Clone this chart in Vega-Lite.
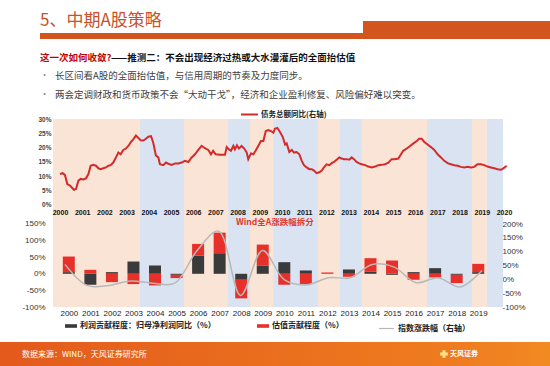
{
  "$schema": "https://vega.github.io/schema/vega-lite/v6.json",
  "background": "#ffffff",
  "padding": 0,
  "spacing": 0,
  "bounds": "flush",
  "config": {
    "view": {"stroke": null},
    "font": "Noto Sans CJK SC",
    "title": {"font": "Noto Sans CJK SC", "anchor": "start", "frame": "group", "offset": 0, "orient": "top", "baseline": "middle"},
    "axis": {"labelFont": "Liberation Sans", "domain": false, "ticks": false, "tickSize": 0, "grid": false, "title": null, "labelColor": "#333333", "zindex": 2},
    "legend": {"labelFont": "Noto Sans CJK SC", "title": null, "padding": 0}
  },
  "resolve": {
    "scale": {"fill": "independent", "stroke": "independent", "color": "independent"},
    "legend": {"fill": "independent", "stroke": "independent", "color": "independent"}
  },
  "datasets": {
    "bands": [
      {"start": 1999.685, "end": 2003.6, "phase": "上行"},
      {"start": 2003.6, "end": 2005.59, "phase": "下行"},
      {"start": 2005.59, "end": 2007.57, "phase": "上行"},
      {"start": 2007.57, "end": 2008.56, "phase": "下行"},
      {"start": 2008.56, "end": 2009.6, "phase": "上行"},
      {"start": 2009.6, "end": 2011.62, "phase": "下行"},
      {"start": 2011.62, "end": 2012.61, "phase": "上行"},
      {"start": 2012.61, "end": 2013.6, "phase": "下行"},
      {"start": 2013.6, "end": 2016.53, "phase": "上行"},
      {"start": 2016.53, "end": 2018.56, "phase": "下行"},
      {"start": 2018.56, "end": 2019.23, "phase": "上行"},
      {"start": 2019.23, "end": 2019.955, "phase": "下行"}
    ],
    "debt": [
      {"year": 2000.0, "growth": 10.8}, {"year": 2000.12, "growth": 11.1}, {"year": 2000.22, "growth": 10.5},
      {"year": 2000.33, "growth": 7.3}, {"year": 2000.45, "growth": 6.8}, {"year": 2000.52, "growth": 6.2},
      {"year": 2000.63, "growth": 5.3}, {"year": 2000.72, "growth": 5.6}, {"year": 2000.83, "growth": 8.5},
      {"year": 2000.93, "growth": 9.1}, {"year": 2001.05, "growth": 8.9}, {"year": 2001.17, "growth": 9.3},
      {"year": 2001.28, "growth": 10.8}, {"year": 2001.38, "growth": 13.7}, {"year": 2001.5, "growth": 14.0},
      {"year": 2001.62, "growth": 13.7}, {"year": 2001.73, "growth": 12.8}, {"year": 2001.83, "growth": 12.5},
      {"year": 2001.95, "growth": 12.8}, {"year": 2002.07, "growth": 13.1}, {"year": 2002.18, "growth": 13.7},
      {"year": 2002.28, "growth": 13.9}, {"year": 2002.4, "growth": 14.8}, {"year": 2002.52, "growth": 16.6},
      {"year": 2002.63, "growth": 18.3}, {"year": 2002.73, "growth": 17.7}, {"year": 2002.85, "growth": 19.2},
      {"year": 2002.97, "growth": 19.7}, {"year": 2003.08, "growth": 20.6}, {"year": 2003.2, "growth": 22.0},
      {"year": 2003.3, "growth": 22.9}, {"year": 2003.42, "growth": 24.2}, {"year": 2003.53, "growth": 23.4},
      {"year": 2003.63, "growth": 22.6}, {"year": 2003.75, "growth": 22.5}, {"year": 2003.87, "growth": 23.1},
      {"year": 2003.98, "growth": 23.8}, {"year": 2004.1, "growth": 24.0}, {"year": 2004.2, "growth": 21.7},
      {"year": 2004.32, "growth": 17.3}, {"year": 2004.43, "growth": 16.6}, {"year": 2004.5, "growth": 14.2},
      {"year": 2004.65, "growth": 13.9}, {"year": 2004.77, "growth": 14.8}, {"year": 2004.88, "growth": 14.4},
      {"year": 2005.03, "growth": 14.0}, {"year": 2005.18, "growth": 14.5}, {"year": 2005.33, "growth": 14.5},
      {"year": 2005.48, "growth": 14.8}, {"year": 2005.63, "growth": 15.4}, {"year": 2005.78, "growth": 15.0},
      {"year": 2005.93, "growth": 16.6}, {"year": 2006.08, "growth": 17.7}, {"year": 2006.23, "growth": 19.2},
      {"year": 2006.38, "growth": 20.6}, {"year": 2006.53, "growth": 19.8}, {"year": 2006.68, "growth": 19.2},
      {"year": 2006.8, "growth": 17.7}, {"year": 2006.9, "growth": 18.9}, {"year": 2007.01, "growth": 17.7},
      {"year": 2007.21, "growth": 17.5}, {"year": 2007.43, "growth": 17.5}, {"year": 2007.51, "growth": 20.2},
      {"year": 2007.61, "growth": 19.4}, {"year": 2007.7, "growth": 18.9}, {"year": 2007.81, "growth": 20.6},
      {"year": 2007.88, "growth": 19.4}, {"year": 2007.97, "growth": 20.8}, {"year": 2008.06, "growth": 19.7},
      {"year": 2008.18, "growth": 20.6}, {"year": 2008.3, "growth": 19.7}, {"year": 2008.41, "growth": 18.3},
      {"year": 2008.48, "growth": 16.0}, {"year": 2008.6, "growth": 18.0}, {"year": 2008.71, "growth": 17.7},
      {"year": 2008.81, "growth": 18.9}, {"year": 2008.93, "growth": 20.6}, {"year": 2009.05, "growth": 22.3},
      {"year": 2009.16, "growth": 22.3}, {"year": 2009.27, "growth": 25.8}, {"year": 2009.38, "growth": 26.1},
      {"year": 2009.5, "growth": 25.8}, {"year": 2009.61, "growth": 25.2}, {"year": 2009.68, "growth": 26.6},
      {"year": 2009.79, "growth": 26.9}, {"year": 2009.91, "growth": 25.5}, {"year": 2010.03, "growth": 23.8},
      {"year": 2010.14, "growth": 21.1}, {"year": 2010.21, "growth": 21.5}, {"year": 2010.33, "growth": 18.5},
      {"year": 2010.44, "growth": 19.2}, {"year": 2010.54, "growth": 18.3}, {"year": 2010.66, "growth": 18.5},
      {"year": 2010.78, "growth": 17.7}, {"year": 2010.89, "growth": 15.4}, {"year": 2010.99, "growth": 13.9},
      {"year": 2011.11, "growth": 13.1}, {"year": 2011.23, "growth": 12.5}, {"year": 2011.34, "growth": 12.5},
      {"year": 2011.44, "growth": 12.0}, {"year": 2011.56, "growth": 11.1}, {"year": 2011.68, "growth": 11.4},
      {"year": 2011.79, "growth": 12.0}, {"year": 2011.89, "growth": 13.1}, {"year": 2012.01, "growth": 14.2},
      {"year": 2012.13, "growth": 13.9}, {"year": 2012.24, "growth": 14.6}, {"year": 2012.34, "growth": 15.0},
      {"year": 2012.46, "growth": 15.8}, {"year": 2012.58, "growth": 16.6}, {"year": 2012.69, "growth": 16.2},
      {"year": 2012.79, "growth": 16.0}, {"year": 2012.91, "growth": 16.0}, {"year": 2013.03, "growth": 15.8},
      {"year": 2013.14, "growth": 16.6}, {"year": 2013.24, "growth": 16.0}, {"year": 2013.36, "growth": 15.0},
      {"year": 2013.48, "growth": 14.5}, {"year": 2013.59, "growth": 14.2}, {"year": 2013.74, "growth": 13.9},
      {"year": 2013.89, "growth": 13.4}, {"year": 2014.04, "growth": 13.1}, {"year": 2014.19, "growth": 13.4},
      {"year": 2014.34, "growth": 13.9}, {"year": 2014.49, "growth": 14.0}, {"year": 2014.64, "growth": 14.2},
      {"year": 2014.79, "growth": 14.8}, {"year": 2014.94, "growth": 16.0}, {"year": 2015.09, "growth": 16.0},
      {"year": 2015.24, "growth": 16.2}, {"year": 2015.36, "growth": 17.7}, {"year": 2015.46, "growth": 18.9},
      {"year": 2015.62, "growth": 19.7}, {"year": 2015.77, "growth": 20.6}, {"year": 2015.92, "growth": 21.5},
      {"year": 2016.07, "growth": 22.3}, {"year": 2016.17, "growth": 23.1}, {"year": 2016.29, "growth": 23.1},
      {"year": 2016.41, "growth": 22.0}, {"year": 2016.56, "growth": 21.1}, {"year": 2016.71, "growth": 20.2},
      {"year": 2016.86, "growth": 19.2}, {"year": 2017.01, "growth": 17.7}, {"year": 2017.16, "growth": 16.6},
      {"year": 2017.31, "growth": 15.4}, {"year": 2017.46, "growth": 14.6}, {"year": 2017.61, "growth": 14.2},
      {"year": 2017.76, "growth": 13.9}, {"year": 2017.91, "growth": 13.7}, {"year": 2018.06, "growth": 13.3},
      {"year": 2018.21, "growth": 13.1}, {"year": 2018.36, "growth": 13.3}, {"year": 2018.51, "growth": 13.1},
      {"year": 2018.66, "growth": 13.3}, {"year": 2018.81, "growth": 14.2}, {"year": 2018.96, "growth": 14.2},
      {"year": 2019.11, "growth": 13.9}, {"year": 2019.26, "growth": 13.4}, {"year": 2019.41, "growth": 13.1},
      {"year": 2019.56, "growth": 12.8}, {"year": 2019.71, "growth": 12.5}, {"year": 2019.86, "growth": 12.3},
      {"year": 2019.97, "growth": 12.8}, {"year": 2020.12, "growth": 13.7}
    ],
    "contrib": [
      {"year": 2000, "type": "利润贡献程度：归母净利润同比（%）", "value": 5}, {"year": 2000, "type": "估值贡献程度（%）", "value": 47},
      {"year": 2001, "type": "利润贡献程度：归母净利润同比（%）", "value": -33}, {"year": 2001, "type": "估值贡献程度（%）", "value": 12},
      {"year": 2002, "type": "利润贡献程度：归母净利润同比（%）", "value": 5}, {"year": 2002, "type": "估值贡献程度（%）", "value": -25},
      {"year": 2003, "type": "利润贡献程度：归母净利润同比（%）", "value": 37}, {"year": 2003, "type": "估值贡献程度（%）", "value": -31},
      {"year": 2004, "type": "利润贡献程度：归母净利润同比（%）", "value": 25}, {"year": 2004, "type": "估值贡献程度（%）", "value": -35},
      {"year": 2005, "type": "利润贡献程度：归母净利润同比（%）", "value": -3}, {"year": 2005, "type": "估值贡献程度（%）", "value": -10},
      {"year": 2006, "type": "利润贡献程度：归母净利润同比（%）", "value": 55}, {"year": 2006, "type": "估值贡献程度（%）", "value": 35},
      {"year": 2007, "type": "利润贡献程度：归母净利润同比（%）", "value": 62}, {"year": 2007, "type": "估值贡献程度（%）", "value": 62},
      {"year": 2008, "type": "利润贡献程度：归母净利润同比（%）", "value": -18}, {"year": 2008, "type": "估值贡献程度（%）", "value": -56},
      {"year": 2009, "type": "利润贡献程度：归母净利润同比（%）", "value": 24}, {"year": 2009, "type": "估值贡献程度（%）", "value": 64},
      {"year": 2010, "type": "利润贡献程度：归母净利润同比（%）", "value": 35}, {"year": 2010, "type": "估值贡献程度（%）", "value": -33},
      {"year": 2011, "type": "利润贡献程度：归母净利润同比（%）", "value": 10}, {"year": 2011, "type": "估值贡献程度（%）", "value": -31},
      {"year": 2012, "type": "利润贡献程度：归母净利润同比（%）", "value": 0}, {"year": 2012, "type": "估值贡献程度（%）", "value": 4},
      {"year": 2013, "type": "利润贡献程度：归母净利润同比（%）", "value": 13}, {"year": 2013, "type": "估值贡献程度（%）", "value": -9},
      {"year": 2014, "type": "利润贡献程度：归母净利润同比（%）", "value": 6}, {"year": 2014, "type": "估值贡献程度（%）", "value": 41},
      {"year": 2015, "type": "利润贡献程度：归母净利润同比（%）", "value": -3}, {"year": 2015, "type": "估值贡献程度（%）", "value": 40},
      {"year": 2016, "type": "利润贡献程度：归母净利润同比（%）", "value": 5}, {"year": 2016, "type": "估值贡献程度（%）", "value": -18},
      {"year": 2017, "type": "利润贡献程度：归母净利润同比（%）", "value": 17}, {"year": 2017, "type": "估值贡献程度（%）", "value": -11},
      {"year": 2018, "type": "利润贡献程度：归母净利润同比（%）", "value": -3}, {"year": 2018, "type": "估值贡献程度（%）", "value": -25},
      {"year": 2019, "type": "利润贡献程度：归母净利润同比（%）", "value": 5}, {"year": 2019, "type": "估值贡献程度（%）", "value": 25}
    ],
    "index": [
      {"year": 2000, "change": 54}, {"year": 2001, "change": -22}, {"year": 2002, "change": -22}, {"year": 2003, "change": -6},
      {"year": 2004, "change": -14}, {"year": 2005, "change": -14}, {"year": 2006, "change": 102}, {"year": 2007, "change": 174},
      {"year": 2008, "change": -58}, {"year": 2009, "change": 104}, {"year": 2010, "change": -2}, {"year": 2011, "change": -20},
      {"year": 2012, "change": 6}, {"year": 2013, "change": 6}, {"year": 2014, "change": 54}, {"year": 2015, "change": 44},
      {"year": 2016, "change": -12}, {"year": 2017, "change": 6}, {"year": 2018, "change": -28}, {"year": 2019, "change": 32}
    ]
  },
  "vconcat": [
    {
      "width": 550, "height": 45,
      "title": {"text": "5、中期A股策略", "fontSize": 17, "fontWeight": "normal", "color": "#c8502a", "dx": 40, "dy": 34},
      "layer": [
        {"data": {"values": [{"part": "细条"}]}, "mark": {"type": "rect", "fill": "#d4541e"},
         "encoding": {"x": {"value": 40}, "x2": {"value": 363}, "y": {"value": 33}, "y2": {"value": 39}}},
        {"data": {"values": [{"part": "粗条"}]}, "mark": {"type": "rect", "fill": "#d4541e"},
         "encoding": {"x": {"value": 363}, "x2": {"value": 550}, "y": {"value": 21}, "y2": {"value": 39}}}
      ]
    },
    {
      "width": 550, "height": 2, "data": {"values": []}, "mark": "point",
      "title": {"text": "这一次如何收敛?", "fontSize": 9.5, "fontWeight": "bold", "color": "#c00000", "dx": 40, "dy": 21}
    },
    {
      "width": 550, "height": 2, "data": {"values": []}, "mark": "point",
      "title": {"text": "——推测二：不会出现经济过热或大水漫灌后的全面抬估值", "fontSize": 9.5, "fontWeight": "bold", "color": "#111111", "dx": 111, "dy": 19}
    },
    {
      "width": 550, "height": 2, "data": {"values": []}, "mark": "point",
      "title": {"text": "•", "fontSize": 9, "fontWeight": "normal", "color": "#8a8a8a", "dx": 40, "dy": 35}
    },
    {
      "width": 550, "height": 2, "data": {"values": []}, "mark": "point",
      "title": {"text": "长区间看A股的全面抬估值，与信用周期的节奏及力度同步。", "fontSize": 9.5, "fontWeight": "normal", "color": "#404040", "dx": 55, "dy": 33.5}
    },
    {
      "width": 550, "height": 2, "data": {"values": []}, "mark": "point",
      "title": {"text": "•", "fontSize": 9, "fontWeight": "normal", "color": "#8a8a8a", "dx": 40, "dy": 50}
    },
    {
      "width": 550, "height": 64, "data": {"values": []}, "mark": "point",
      "title": {"text": "两会定调财政和货币政策不会“大动干戈”，经济和企业盈利修复、风险偏好难以突变。", "fontSize": 9.5, "fontWeight": "normal", "color": "#404040", "dx": 55, "dy": 48}
    },
    {
      "width": 550, "height": 99,
      "layer": [
        {
          "data": {"name": "bands"},
          "mark": {"type": "rect"},
          "encoding": {
            "x": {"field": "start", "type": "quantitative", "scale": {"domain": [1997.297, 2022.072], "nice": false, "zero": false}, "axis": null},
            "x2": {"field": "end"},
            "fill": {"field": "phase", "type": "nominal", "scale": {"domain": ["上行", "下行"], "range": ["#fae4d5", "#dae3f2"]}, "legend": null}
          }
        },
        {
          "data": {"name": "debt"},
          "mark": {"type": "line", "strokeWidth": 2},
          "encoding": {
            "x": {"field": "year", "type": "quantitative"},
            "y": {"field": "growth", "type": "quantitative", "scale": {"domain": [-4.535, 30], "nice": false, "zero": false},
                  "axis": {"orient": "left", "offset": -53, "values": [0, 5, 10, 15, 20, 25, 30], "labelExpr": "datum.value + '%'", "labelFontSize": 6.5, "labelFontWeight": "bold", "labelColor": "#444444", "labelPadding": 2}},
            "stroke": {"datum": "债务总额同比(右轴)", "type": "nominal", "scale": {"range": ["#d42a2a"]},
                       "legend": {"orient": "none", "legendX": 240, "legendY": -14, "symbolType": "stroke", "symbolSize": 289, "symbolStrokeWidth": 2, "labelFontSize": 7.5, "labelFontWeight": "bold", "labelColor": "#222222", "labelOffset": 2}}
          }
        }
      ]
    },
    {
      "width": 550, "height": 89,
      "title": {"text": "Wind全A涨跌幅拆分", "fontSize": 8.5, "fontWeight": "bold", "color": "#e03a2e", "dx": 236, "dy": 22},
      "resolve": {"scale": {"x": "independent", "y": "independent"}},
      "layer": [
        {
          "data": {"name": "bands"},
          "mark": {"type": "rect"},
          "encoding": {
            "x": {"field": "start", "type": "quantitative", "scale": {"domain": [1997.297, 2022.072], "nice": false, "zero": false},
                  "axis": {"orient": "top", "values": [2000, 2001, 2002, 2003, 2004, 2005, 2006, 2007, 2008, 2009, 2010, 2011, 2012, 2013, 2014, 2015, 2016, 2017, 2018, 2019, 2020],
                           "format": "d", "labelFontSize": 7, "labelFontWeight": "bold", "labelColor": "#111111", "labelPadding": 3, "labelFlush": false, "labelOverlap": false}},
            "x2": {"field": "end"},
            "fill": {"field": "phase", "type": "nominal", "scale": {"domain": ["上行", "下行"], "range": ["#fae4d5", "#dae3f2"]}, "legend": null}
          }
        },
        {
          "data": {"name": "contrib"},
          "mark": {"type": "bar", "size": 12},
          "encoding": {
            "x": {"field": "year", "type": "quantitative", "scale": {"domain": [1997.038, 2022.099], "nice": false, "zero": false},
                  "axis": {"orient": "bottom", "values": [2000, 2001, 2002, 2003, 2004, 2005, 2006, 2007, 2008, 2009, 2010, 2011, 2012, 2013, 2014, 2015, 2016, 2017, 2018, 2019],
                           "format": "d", "labelFontSize": 8, "labelColor": "#222222", "labelPadding": 2, "labelFlush": false, "labelOverlap": false}},
            "y": {"field": "value", "type": "quantitative", "stack": "zero", "scale": {"domain": [-100, 168.07], "nice": false, "zero": false},
                  "axis": {"orient": "left", "offset": -53, "values": [-100, -50, 0, 50, 100, 150], "labelExpr": "datum.value + '%'", "labelFontSize": 8, "labelPadding": 8, "labelColor": "#333333"}},
            "color": {"field": "type", "type": "nominal", "scale": {"domain": ["利润贡献程度：归母净利润同比（%）", "估值贡献程度（%）"], "range": ["#3a3a3a", "#e8302a"]},
                      "legend": {"orient": "none", "legendX": 65, "legendY": 102, "direction": "horizontal", "columns": 2, "symbolType": "M-1,-0.3H1V0.3H-1Z", "symbolSize": 144, "symbolStrokeWidth": 0,
                                 "labelFontSize": 8, "labelFontWeight": "bold", "labelColor": "#222222", "labelOffset": 3, "columnPadding": 41, "labelLimit": 300}},
            "order": {"field": "type", "sort": "descending"}
          }
        },
        {
          "data": {"name": "index"},
          "mark": {"type": "line", "interpolate": "catmull-rom", "strokeWidth": 1.5},
          "encoding": {
            "x": {"field": "year", "type": "quantitative", "scale": {"domain": [1997.038, 2022.099], "nice": false, "zero": false}, "axis": null},
            "y": {"field": "change", "type": "quantitative", "scale": {"domain": [-100, 221.7], "nice": false, "zero": false},
                  "axis": {"orient": "right", "offset": -50, "values": [-100, -50, 0, 50, 100, 150, 200], "labelExpr": "datum.value + '%'", "labelFontSize": 8, "labelPadding": 2, "labelColor": "#333333"}},
            "stroke": {"datum": "指数涨跌幅（右轴）", "type": "nominal", "scale": {"range": ["#b8b8b8"]},
                       "legend": {"orient": "none", "legendX": 378, "legendY": 102, "symbolType": "stroke", "symbolSize": 225, "symbolStrokeWidth": 1.2, "labelFontSize": 8, "labelFontWeight": "bold", "labelColor": "#222222", "labelOffset": 3}}
          }
        }
      ]
    },
    {
      "width": 550, "height": 35, "data": {"values": []}, "mark": "point"
    },
    {
      "width": 550, "height": 24,
      "view": {"fill": {"gradient": "linear", "x1": 0, "x2": 1, "y1": 0, "y2": 0, "stops": [{"offset": 0, "color": "#e35a1c"}, {"offset": 0.85, "color": "#ef7d1f"}, {"offset": 1, "color": "#f28a22"}]}},
      "title": {"text": "数据来源：WIND，天风证券研究所", "fontSize": 8, "fontWeight": "normal", "color": "#ffffff", "dx": 22, "dy": 21},
      "data": {"values": []},
      "mark": {"type": "point", "filled": true},
      "encoding": {
        "color": {"datum": "天风证券", "type": "nominal", "scale": {"range": ["#ffe38a"]},
                  "legend": {"orient": "none", "legendX": 440, "legendY": 8, "symbolType": "cross", "symbolSize": 60, "symbolStrokeWidth": 0, "symbolFillColor": "#ffe38a", "symbolOpacity": 1, "labelFontSize": 7, "labelFontWeight": "bold", "labelColor": "#ffffff", "labelOffset": 2}}
      }
    }
  ]
}
